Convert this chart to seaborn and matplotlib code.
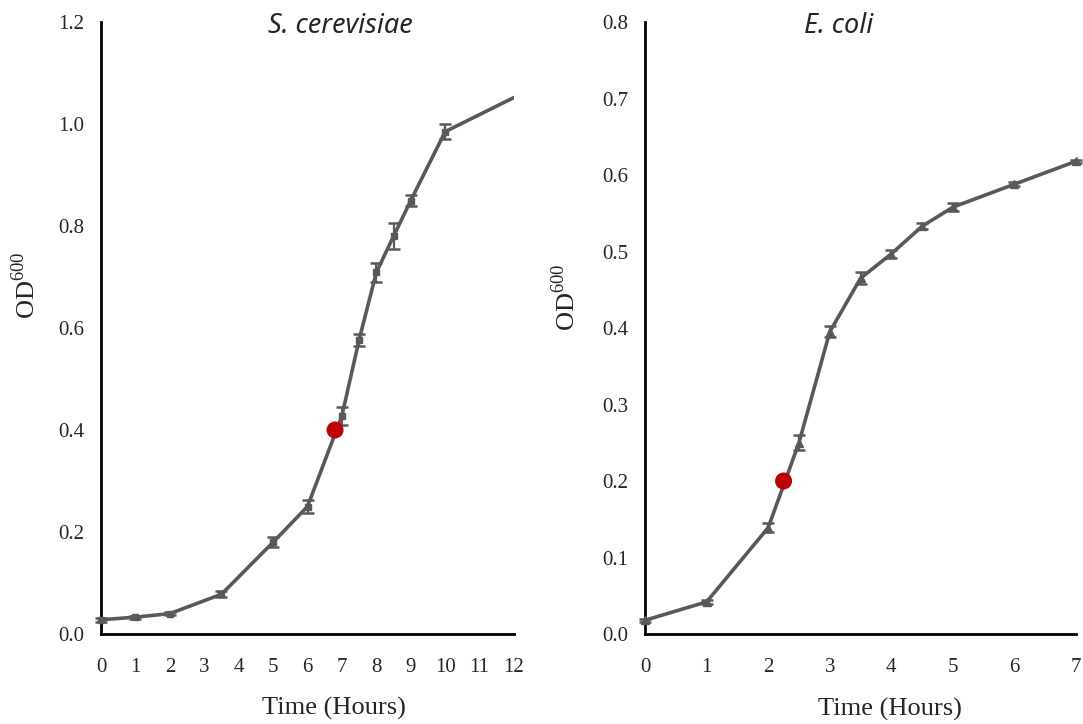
import seaborn as sns
import matplotlib.pyplot as plt

# S. cerevisiae growth (OD600 vs hours)
yeast_time = [0, 1, 2, 3.5, 5, 6, 7, 7.5, 8, 8.5, 9, 10]
yeast_od = [0.028, 0.033, 0.040, 0.078, 0.180, 0.250, 0.428, 0.577, 0.709, 0.780, 0.850, 0.985]
yeast_err = [0.004, 0.003, 0.003, 0.006, 0.010, 0.012, 0.018, 0.012, 0.018, 0.025, 0.010, 0.015]
yeast_end_time = 12
yeast_end_od = 1.052
yeast_mark = (6.8, 0.40)

# E. coli growth
ecoli_time = [0, 1, 2, 2.5, 3, 3.5, 4, 4.5, 5, 6, 7]
ecoli_od = [0.018, 0.042, 0.139, 0.250, 0.395, 0.465, 0.497, 0.533, 0.558, 0.588, 0.618]
ecoli_err = [0.002, 0.003, 0.006, 0.010, 0.007, 0.008, 0.005, 0.004, 0.005, 0.003, 0.002]
ecoli_mark = (2.25, 0.20)

yeast_xticks = list(range(0, 13))
yeast_yticks = [0.0, 0.2, 0.4, 0.6, 0.8, 1.0, 1.2]
ecoli_xticks = list(range(0, 8))
ecoli_yticks = [0.0, 0.1, 0.2, 0.3, 0.4, 0.5, 0.6, 0.7, 0.8]

sns.set_style("white")
plt.rcParams['font.family'] = ['Liberation Serif', 'DejaVu Serif']
plt.rcParams['mathtext.fontset'] = 'custom'
plt.rcParams['mathtext.rm'] = 'Liberation Serif'

line_color = "#595959"
dot_color = "#C00000"

fig = plt.figure(figsize=(10.83, 7.24), dpi=100)
ax1 = fig.add_axes([0.0933, 0.1243, 0.3813, 0.8453])
ax2 = fig.add_axes([0.5956, 0.1243, 0.3980, 0.8453])


def draw_panel(ax, t, od, err, marker, ms, mark, title, title_x, xticks, yticks, ymax, xmax,
               xlab_pos, ylab_pos):
    sns.lineplot(x=t, y=od, ax=ax, color=line_color, linewidth=2.6, zorder=2)
    ax.errorbar(t, od, yerr=err, fmt=marker, color=line_color, ms=ms,
                capsize=4.5, elinewidth=1.6, capthick=1.8, zorder=3, clip_on=False)
    sns.scatterplot(x=[mark[0]], y=[mark[1]], ax=ax, color=dot_color, s=150,
                    edgecolor="none", zorder=4)
    ax.set_xlim(0, xmax)
    ax.set_ylim(0, ymax)
    ax.set_xticks(xticks)
    ax.set_yticks(yticks)
    ax.set_yticklabels([f"{v:.1f}" for v in yticks])
    ax.tick_params(axis='both', labelsize=15, length=0)
    ax.tick_params(axis='x', pad=17)
    ax.tick_params(axis='y', pad=12)
    for s in ['top', 'right']:
        ax.spines[s].set_visible(False)
    for s in ['left', 'bottom']:
        ax.spines[s].set_color('black')
        ax.spines[s].set_linewidth(2)
    ax.set_xlabel("Time (Hours)", fontsize=19)
    ax.set_ylabel("OD$^{600}$", fontsize=19)
    ax.xaxis.set_label_coords(*xlab_pos)
    ax.yaxis.set_label_coords(*ylab_pos)
    ax.text(title_x, 0.994, title, transform=ax.transAxes, ha='center', va='center',
            fontsize=19.5, style='italic', family=['Noto Sans', 'DejaVu Sans'])


# yeast line continues past the last measured point to the axis edge
draw_panel(ax1, yeast_time, yeast_od, yeast_err, 's', 5, yeast_mark,
           "S. cerevisiae", 0.579, yeast_xticks, yeast_yticks, 1.2, 12,
           (0.564, -0.103), (-0.148, 0.570))
sns.lineplot(x=[yeast_time[-1], yeast_end_time], y=[yeast_od[-1], yeast_end_od],
             ax=ax1, color=line_color, linewidth=2.6, zorder=2)

draw_panel(ax2, ecoli_time, ecoli_od, ecoli_err, '^', 6, ecoli_mark,
           "E. coli", 0.45, ecoli_xticks, ecoli_yticks, 0.8, 7,
           (0.568, -0.105), (-0.150, 0.551))

fig.savefig("out.png", dpi=100)
